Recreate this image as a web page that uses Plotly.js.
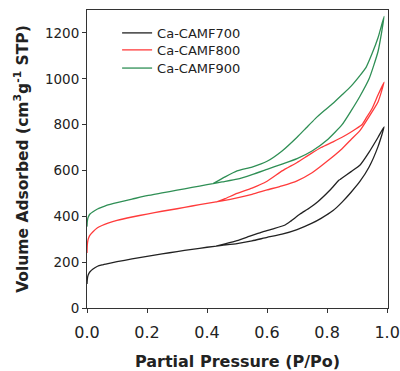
<!DOCTYPE html>
<html>
<head>
<meta charset="utf-8">
<script src="https://cdn.plot.ly/plotly-3.0.1.min.js"></script>
<style>html,body{margin:0;padding:0;background:#fff;}#chart{width:400px;height:371px;}</style>
</head>
<body>
<div id="chart"></div>
<script>
// Ca-CAMF700 : adsorption branch then desorption branch
const p700 = [0, 0.001, 0.003, 0.006, 0.01, 0.02, 0.035, 0.05, 0.07, 0.1, 0.15, 0.2, 0.25, 0.3, 0.35, 0.4, 0.45, 0.5, 0.55, 0.6, 0.65, 0.7, 0.75, 0.78, 0.82, 0.85, 0.88, 0.91, 0.94, 0.97, 0.99,
              0.97, 0.94, 0.91, 0.88, 0.85, 0.845, 0.84, 0.81, 0.77, 0.74, 0.71, 0.68, 0.66, 0.62, 0.58, 0.54, 0.5, 0.46, 0.43];
const v700 = [105, 125, 140, 150, 158, 170, 182, 188, 194, 202, 214, 225, 236, 246, 256, 265, 273, 281, 293, 308, 322, 342, 370, 391, 425, 462, 505, 553, 615, 705, 790,
              745, 680, 624, 595, 567, 562, 558, 515, 465, 435, 410, 380, 362, 345, 330, 312, 294, 280, 270];

// Ca-CAMF800
const p800 = [0, 0.001, 0.003, 0.006, 0.01, 0.02, 0.035, 0.05, 0.07, 0.1, 0.15, 0.2, 0.25, 0.3, 0.35, 0.4, 0.45, 0.5, 0.55, 0.6, 0.65, 0.7, 0.75, 0.8, 0.85, 0.88, 0.91, 0.94, 0.97, 0.99,
              0.97, 0.95, 0.93, 0.915, 0.88, 0.85, 0.82, 0.78, 0.74, 0.7, 0.65, 0.6, 0.55, 0.5, 0.46, 0.43];
const v800 = [240, 275, 295, 308, 318, 333, 350, 360, 370, 382, 397, 410, 422, 433, 445, 456, 467, 480, 496, 515, 533, 555, 590, 640, 695, 735, 775, 835, 900, 985,
              930, 870, 828, 798, 768, 745, 725, 700, 668, 635, 598, 553, 523, 500, 477, 462];

// Ca-CAMF900
const p900 = [0, 0.001, 0.003, 0.006, 0.01, 0.02, 0.035, 0.05, 0.07, 0.1, 0.15, 0.2, 0.25, 0.3, 0.35, 0.4, 0.45, 0.5, 0.55, 0.6, 0.65, 0.7, 0.75, 0.8, 0.85, 0.88, 0.91, 0.94, 0.97, 0.99,
              0.97, 0.95, 0.93, 0.91, 0.88, 0.85, 0.82, 0.79, 0.76, 0.73, 0.7, 0.65, 0.6, 0.55, 0.5, 0.46, 0.42];
const v900 = [355, 378, 392, 402, 410, 420, 432, 440, 450, 460, 475, 490, 502, 514, 526, 538, 550, 562, 582, 605, 628, 652, 685, 733, 800, 860, 925, 1000, 1120, 1272,
              1180, 1110, 1050, 1015, 968, 930, 893, 860, 825, 785, 745, 685, 640, 615, 598, 572, 543];

const names = ['Ca-CAMF700', 'Ca-CAMF800', 'Ca-CAMF900'];
const colors = ['#222222', '#ff3b3b', '#2f8f55'];
const xs = [p700, p800, p900];
const ys = [v700, v800, v900];
const legendIds = ['legend', 'legend2', 'legend3'];
const legendY = [0.923, 0.866, 0.805];

const traces = names.map((n, i) => ({
  x: xs[i], y: ys[i], name: n, type: 'scatter', mode: 'lines', legend: legendIds[i],
  line: {color: colors[i], width: 1.3, shape: 'spline', smoothing: 0.5}
}));

const fam = 'DejaVu Sans, Verdana, sans-serif';
const layout = {
  width: 400, height: 371,
  margin: {l: 87, r: 12, t: 10, b: 63},
  paper_bgcolor: '#fff', plot_bgcolor: '#fff',
  showlegend: true,
  xaxis: {
    range: [0, 1.003], tickvals: [0, 0.2, 0.4, 0.6, 0.8, 1.0], ticktext: ['0.0', '0.2', '0.4', '0.6', '0.8', '1.0'],
    ticks: 'outside', ticklen: 4, tickcolor: '#333', showline: true, linecolor: '#333', linewidth: 1, mirror: true,
    showgrid: false, zeroline: false, ticklabelstandoff: 6,
    tickfont: {family: fam, size: 16, color: '#222'},
    title: {text: '<b>Partial Pressure (P/Po)</b>', font: {family: fam, size: 16, color: '#222'}, standoff: 14}
  },
  yaxis: {
    range: [0, 1300], tickvals: [0, 200, 400, 600, 800, 1000, 1200],
    ticks: 'outside', ticklen: 4, tickcolor: '#333', showline: true, linecolor: '#333', linewidth: 1, mirror: true,
    showgrid: false, zeroline: false,
    tickfont: {family: fam, size: 13.5, color: '#222'},
    title: {text: '<b>Volume Adsorbed (cm<sup>3</sup>g<sup>-1</sup> STP)</b>', font: {family: fam, size: 15.5, color: '#222'}, standoff: 12}
  }
};
legendIds.forEach((id, i) => {
  layout[id] = {x: 0.1, y: legendY[i], xanchor: 'left', yanchor: 'middle', bgcolor: 'rgba(0,0,0,0)',
                font: {family: fam, size: 13, color: '#222'}};
});

Plotly.newPlot('chart', traces, layout, {displayModeBar: false, staticPlot: true});
</script>
</body>
</html>
